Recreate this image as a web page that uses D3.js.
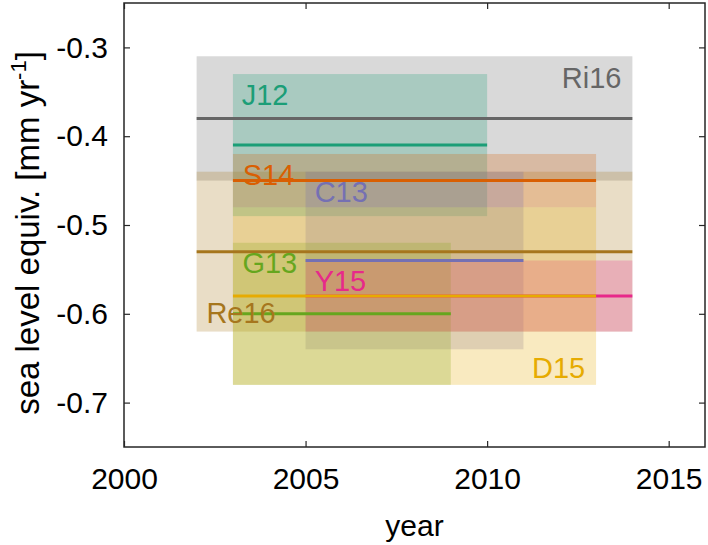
<!DOCTYPE html>
<html>
<head>
<meta charset="utf-8">
<script src="https://cdn.jsdelivr.net/npm/d3@7"></script>
<style>
  html, body { margin: 0; padding: 0; background: #fff; }
  svg { display: block; font-family: "Liberation Sans", Arial, Helvetica, sans-serif; }
</style>
</head>
<body>
<svg id="chart" width="708" height="545"></svg>
<script>
// ---- data ----
const series      = ["Ri16", "Re16", "J12", "S14", "C13", "G13", "Y15", "D15"];
const startYear   = [2002, 2002, 2003, 2003, 2005, 2003, 2005, 2003];
const endYear     = [2014, 2014, 2010, 2013, 2011, 2009, 2014, 2013];
const rate        = [-0.38, -0.53, -0.41, -0.45, -0.54, -0.60, -0.58, -0.58];
const uncertainty = [0.07, 0.09, 0.08, 0.03, 0.10, 0.08, 0.04, 0.10];
const colors      = ["#666666", "#a6761d", "#1b9e77", "#d95f02", "#7570b3", "#66a61e", "#e7298a", "#e6ab02"];
// label anchor points in data units (year, rate) and anchor
const labelYear   = [2013.7, 2002.27, 2003.24, 2003.27, 2005.25, 2003.26, 2005.25, 2012.7];
const labelRate   = [-0.3453, -0.6104, -0.3644, -0.4554, -0.4745, -0.5543, -0.5745, -0.6722];
const labelAnchor = ["end", "start", "start", "start", "start", "start", "start", "end"];

const xDomain = [2000, 2016];
const yDomain = [-0.75, -0.25];
const xTicks = [2000, 2005, 2010, 2015];
const yTicks = [-0.7, -0.6, -0.5, -0.4, -0.3];
const xLabel = "year";

// ---- layout ----
const svg = d3.select("#chart");
const mLeft = 124, mTop = 3, mRight = 705, mBottom = 447;
const x = d3.scaleLinear().domain(xDomain).range([mLeft, mRight]);
const y = d3.scaleLinear().domain(yDomain).range([mBottom, mTop]);
const axisColor = "#262626";
const fontSize = 29;
const tickFont = 30;
const tickLen = 6;

const plot = svg.append("g");

// boxes
const idx = d3.range(series.length);
plot.selectAll("rect.box").data(idx).join("rect")
  .attr("class", "box")
  .attr("x", i => x(startYear[i]))
  .attr("width", i => x(endYear[i]) - x(startYear[i]))
  .attr("y", i => y(rate[i] + uncertainty[i]))
  .attr("height", i => y(rate[i] - uncertainty[i]) - y(rate[i] + uncertainty[i]))
  .attr("fill", i => colors[i])
  .attr("fill-opacity", 0.25);

// lines
plot.selectAll("line.rate").data(idx).join("line")
  .attr("class", "rate")
  .attr("x1", i => x(startYear[i]))
  .attr("x2", i => x(endYear[i]))
  .attr("y1", i => y(rate[i]))
  .attr("y2", i => y(rate[i]))
  .attr("stroke", i => colors[i])
  .attr("stroke-width", 3);

// labels
plot.selectAll("text.lab").data(idx).join("text")
  .attr("class", "lab")
  .attr("x", i => x(labelYear[i]))
  .attr("y", i => y(labelRate[i]))
  .attr("text-anchor", i => labelAnchor[i])
  .attr("fill", i => colors[i])
  .attr("font-size", fontSize)
  .text(i => series[i]);

// axes
const yFmt = d => d3.format(".1f")(d).replace("\u2212", "-");
const xAxisB = d3.axisBottom(x).tickValues(xTicks).tickFormat(d3.format("d"))
  .tickSizeInner(-tickLen).tickSizeOuter(0).tickPadding(21);
const xAxisT = d3.axisTop(x).tickValues(xTicks).tickFormat("")
  .tickSizeInner(-tickLen).tickSizeOuter(0);
const yAxisL = d3.axisLeft(y).tickValues(yTicks).tickFormat(yFmt)
  .tickSizeInner(-tickLen).tickSizeOuter(0).tickPadding(16);
const yAxisR = d3.axisRight(y).tickValues(yTicks).tickFormat("")
  .tickSizeInner(-tickLen).tickSizeOuter(0);

function style(g) {
  g.select(".domain").remove();
  g.selectAll(".tick line").attr("stroke", axisColor).attr("stroke-width", 1.2);
  g.selectAll(".tick text").attr("fill", "#000").attr("font-size", tickFont)
    .attr("font-family", "Liberation Sans, Arial, sans-serif");
}
svg.append("g").attr("transform", `translate(0,${mBottom})`).call(xAxisB).call(style);
svg.append("g").attr("transform", `translate(0,${mTop})`).call(xAxisT).call(style);
svg.append("g").attr("transform", `translate(${mLeft},0)`).call(yAxisL).call(style);
svg.append("g").attr("transform", `translate(${mRight},0)`).call(yAxisR).call(style);

// frame
svg.append("rect")
  .attr("x", mLeft).attr("y", mTop)
  .attr("width", mRight - mLeft).attr("height", mBottom - mTop)
  .attr("fill", "none").attr("stroke", axisColor).attr("stroke-width", 1.5);

// axis titles
svg.append("text")
  .attr("x", (mLeft + mRight) / 2).attr("y", 536)
  .attr("text-anchor", "middle").attr("font-size", tickFont).attr("fill", "#000")
  .text(xLabel);

const yl = svg.append("text")
  .attr("transform", `translate(39,${(mTop + mBottom) / 2 + 8}) rotate(-90)`)
  .attr("text-anchor", "middle").attr("font-size", 33).attr("fill", "#000");
yl.append("tspan").text("sea level equiv. [mm yr");
yl.append("tspan").attr("dy", -13).attr("font-size", 22).text("-1");
yl.append("tspan").attr("dy", 13).text("]");
</script>
</body>
</html>
